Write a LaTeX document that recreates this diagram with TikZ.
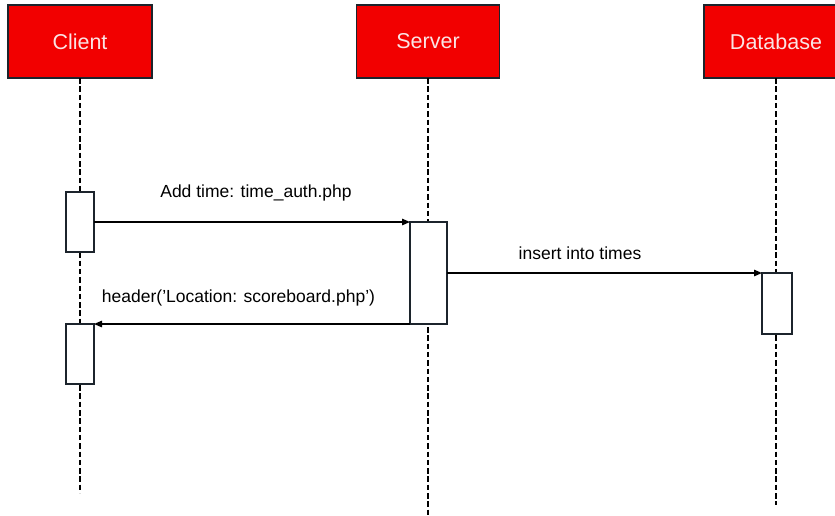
\documentclass[tikz,border=0pt]{standalone}
\usepackage{fontspec}
\setmainfont{Liberation Sans}
\usetikzlibrary{arrows.meta}
\definecolor{hdrred}{RGB}{242,0,0}
\definecolor{hdrtext}{RGB}{250,228,228}
\definecolor{edge}{RGB}{28,36,44}
\tikzset{
  actor/.style={draw=edge, line width=1.4pt, fill=hdrred, text=hdrtext,
    minimum width=144pt, minimum height=73pt, inner sep=0pt, outer sep=0pt,
    font=\fontsize{21.5}{24}\selectfont},
  actbox/.style={draw=edge, line width=1.4pt, fill=white,
    inner sep=0pt, outer sep=0pt},
  lifeline/.style={line width=1.7pt, dash pattern=on 5.5pt off 2.8pt},
  msg/.style={line width=1.3pt, -{Triangle[length=8pt,width=6.5pt]}},
  msglabel/.style={font=\fontsize{17.5}{20}\selectfont, text=black}
}
\begin{document}
\begin{tikzpicture}[x=1pt,y=-1pt]
  \path[use as bounding box, clip] (0,0) rectangle (835,515);
  \fill[white] (0,0) rectangle (835,515);

  % participants
  \node[actor] (cli) at (80,41.5) {Client};
  \node[actor, minimum width=143pt] (srv) at (428,41.5) {Server};
  \node[actor] (db) at (776,41.5) {Database};

  % lifeline ends
  \coordinate (cliend) at (80,493);
  \coordinate (srvend) at (428,515);
  \coordinate (dbend) at (776,505);

  \draw[lifeline] (cli.south) -- (cliend);
  \draw[lifeline] (srv.south) -- (srvend);
  \draw[lifeline] (db.south) -- (dbend);

  % activation bars
  \node[actbox, minimum width=28pt, minimum height=60pt] (ca1) at (80,222) {};
  \node[actbox, minimum width=37pt, minimum height=102pt] (sa) at (428.5,273) {};
  \node[actbox, minimum width=30pt, minimum height=61pt] (da) at (777,303.5) {};
  \node[actbox, minimum width=28pt, minimum height=60pt] (ca2) at (80,354) {};

  % messages
  \draw[msg] (ca1.east) -- (sa.north west);
  \draw[msg] (sa.east) -- (da.north west);
  \draw[msg] (sa.south west) -- (ca2.north east);

  \node[msglabel] (m1) at (256,193) {Add time: time\_auth.php};
  \node[msglabel] (m2) at (580,253) {insert into times};
  \node[msglabel] (m3) at (238.5,298) {header(’Location: scoreboard.php’)};
\end{tikzpicture}
\end{document}
